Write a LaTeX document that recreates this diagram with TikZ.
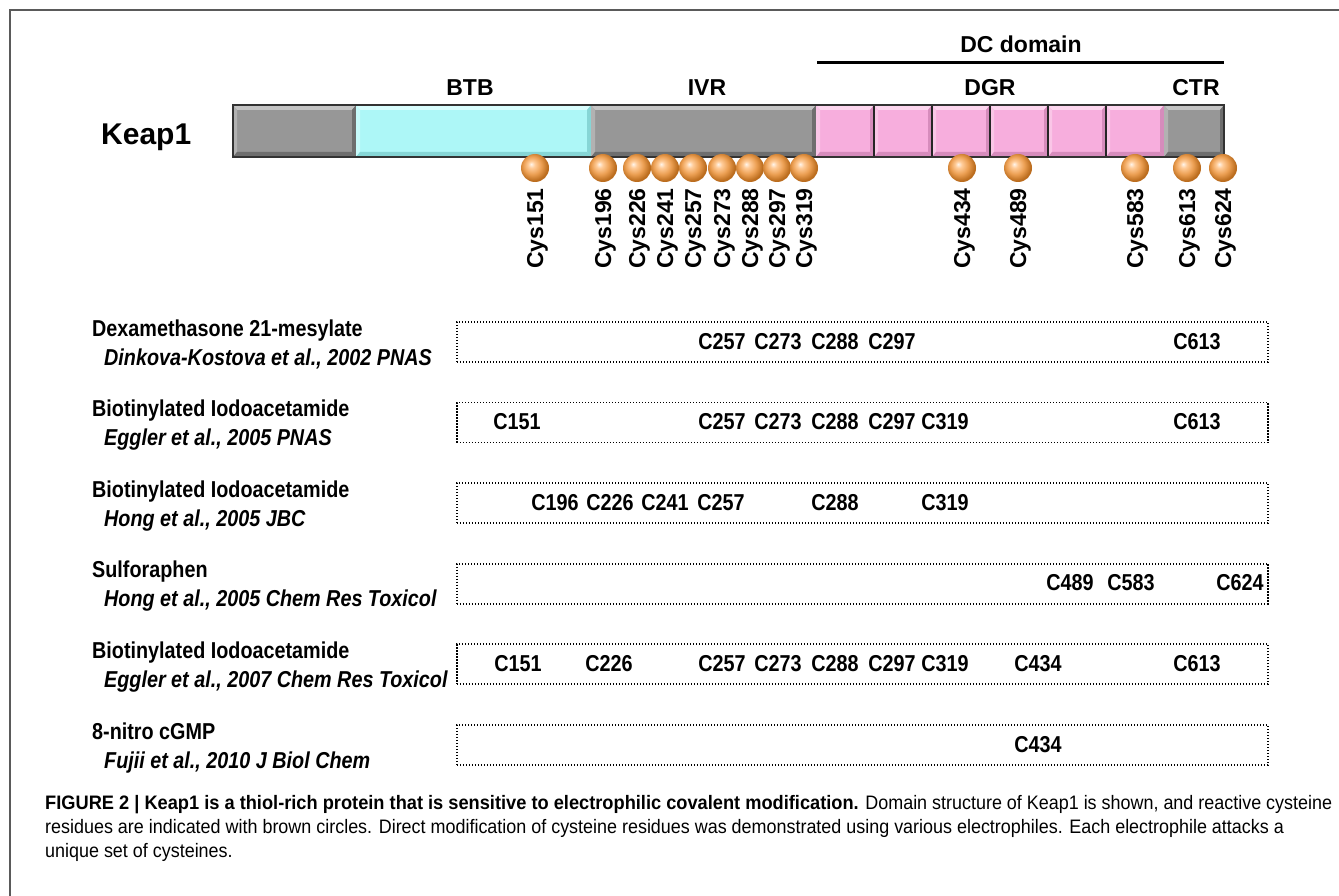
\documentclass[tikz,border=0pt]{standalone}
\usepackage{fontspec}
\setmainfont{Liberation Sans}
\newfontfamily\condfont[FakeStretch=0.86]{Liberation Sans}
\newfontfamily\capfont[FakeStretch=0.92]{Liberation Sans}
\newfontfamily\capboldfont[FakeStretch=0.935]{Liberation Sans}
\usetikzlibrary{calc}
\definecolor{graybase}{HTML}{979797}
\definecolor{graylight}{HTML}{C4C4C4}
\definecolor{graydark}{HTML}{6E6E6E}
\definecolor{cyanbase}{HTML}{ADF7F7}
\definecolor{cyanlight}{HTML}{D8FDFD}
\definecolor{cyandark}{HTML}{86D6D6}
\definecolor{pinkbase}{HTML}{F7AEDD}
\definecolor{pinklight}{HTML}{FCD6EE}
\definecolor{pinkdark}{HTML}{D68CBC}
\definecolor{framegray}{HTML}{5A5A5A}
\pgfdeclareradialshading{cysball}{\pgfpoint{-7bp}{7bp}}{%
  color(0bp)=(white!92!orange);
  color(6bp)=(white!60!orange);
  color(16bp)=(orange!60!brown!75!white);
  color(26bp)=(orange!45!brown!85!black);
  color(50bp)=(orange!45!brown!85!black)}
\newcommand\kseg[5]{%
  \fill[#3] (#1,105) rectangle (#2,157);
  \fill[#4] (#1,105) -- (#2,105) -- ({#2-4},110) -- ({#1+4},110) -- cycle;
  \fill[#4!60!#3] (#1,105) -- ({#1+4},110) -- ({#1+4},152) -- (#1,157) -- cycle;
  \fill[#5] (#1,157) -- (#2,157) -- ({#2-4},152) -- ({#1+4},152) -- cycle;
  \fill[#5] (#2,105) -- (#2,157) -- ({#2-4},152) -- ({#2-4},110) -- cycle;
}
\tikzset{
  cys/.style={circle, minimum size=28pt, inner sep=0pt, shading=cysball},
  cyslab/.style={rotate=90, anchor=east, inner sep=0pt, font=\fontsize{23}{26}\selectfont\bfseries},
  domlab/.style={anchor=base, inner sep=0pt, font=\fontsize{23}{26}\selectfont\bfseries},
  rowbox/.style={draw, line width=1.8pt, dash pattern=on 1.4pt off 1.6pt, anchor=north west,
    minimum width=811pt, minimum height=40pt, inner sep=0pt},
  rowtitle/.style={anchor=base west, inner sep=0pt, font=\condfont\fontsize{23}{26}\selectfont\bfseries},
  rowref/.style={anchor=base west, inner sep=0pt, font=\condfont\fontsize{23}{26}\selectfont\bfseries\itshape},
  clab/.style={anchor=base, inner sep=0pt, font=\condfont\fontsize{23}{26}\selectfont\bfseries},
  capline/.style={anchor=base west, inner sep=0pt, font=\capfont\fontsize{19.5}{22}\selectfont},
}
\begin{document}
\begin{tikzpicture}[x=1pt,y=-1pt]
\useasboundingbox (0,0) rectangle (1339,896);
\fill[white] (0,0) rectangle (1339,896);
\draw[framegray, line width=2pt] (10,896) -- (10,10) -- (1339,10);

% Keap1 bar
\node[anchor=base west, inner sep=0pt, font=\fontsize{30}{34}\selectfont\bfseries] (keap) at (101,145) {Keap1};
\kseg{233}{356}{graybase}{graylight}{graydark}
\kseg{356}{591}{cyanbase}{cyanlight}{cyandark}
\kseg{591}{816}{graybase}{graylight}{graydark}
\kseg{816}{874}{pinkbase}{pinklight}{pinkdark}
\kseg{874}{932}{pinkbase}{pinklight}{pinkdark}
\kseg{932}{990}{pinkbase}{pinklight}{pinkdark}
\kseg{990}{1048}{pinkbase}{pinklight}{pinkdark}
\kseg{1048}{1106}{pinkbase}{pinklight}{pinkdark}
\kseg{1106}{1164}{pinkbase}{pinklight}{pinkdark}
\kseg{1164}{1224}{graybase}{graylight}{graydark}
\foreach \sx in {874,932,990,1048,1106}
  \draw[black!85, line width=1.5pt] (\sx,105) -- (\sx,157);
\draw[black!80, line width=1.5pt] (233,105) rectangle (1224,157);

% domain labels
\node[domlab] (btb) at (470,96) {BTB};
\node[domlab] (ivr) at (707,96) {IVR};
\node[domlab] (dgr) at (990,96) {DGR};
\node[domlab] (ctr) at (1196,96) {CTR};
\node[domlab] (dcd) at (1021,53) {DC domain};
\coordinate (dcl) at (817,63);
\coordinate (dcr) at (1224,63);
\draw[line width=3pt] (dcl) -- (dcr);

% cysteines
\foreach \n/\cx in {151/535,196/603,226/637,241/665,257/693,273/722,288/750,297/777,319/804,434/962,489/1018,583/1135,613/1187,624/1223}{
  \node[cys] (s\n) at (\cx,168) {};
  \node[cyslab] (l\n) at ({\cx+2.4},188) {Cys\n};
}

% rows
% row 1
\node[rowbox] (b1) at (456,321) {};
\node[rowtitle] (t1) at (92,336) {Dexamethasone 21-mesylate};
\node[rowref] (r1) at (104,365) {Dinkova-Kostova et al., 2002 PNAS};
\foreach \c/\cx in {257/722,273/778,288/835,297/892,613/1197}
  \node[clab] (a\c) at (\cx,349) {C\c};
% row 2
\node[rowbox] (b2) at (456,401.6) {};
\node[rowtitle] (t2) at (92,416.6) {Biotinylated Iodoacetamide};
\node[rowref] (r2) at (104,445.6) {Eggler et al., 2005 PNAS};
\foreach \c/\cx in {151/517,257/722,273/778,288/835,297/892,319/945,613/1197}
  \node[clab] (b\c) at (\cx,429.6) {C\c};
% row 3
\node[rowbox] (b3) at (456,482.2) {};
\node[rowtitle] (t3) at (92,497.2) {Biotinylated Iodoacetamide};
\node[rowref] (r3) at (104,526.2) {Hong et al., 2005 JBC};
\foreach \c/\cx in {196/555,226/610,241/665,257/721,288/835,319/945}
  \node[clab] (c\c) at (\cx,510.2) {C\c};
% row 4
\node[rowbox] (b4) at (456,562.8) {};
\node[rowtitle] (t4) at (92,577.8) {Sulforaphen};
\node[rowref] (r4) at (104,606.8) {Hong et al., 2005 Chem Res Toxicol};
\foreach \c/\cx in {489/1070,583/1131,624/1240}
  \node[clab] (d\c) at (\cx,590.8) {C\c};
% row 5
\node[rowbox] (b5) at (456,643.4) {};
\node[rowtitle] (t5) at (92,658.4) {Biotinylated Iodoacetamide};
\node[rowref] (r5) at (104,687.4) {Eggler et al., 2007 Chem Res Toxicol};
\foreach \c/\cx in {151/518,226/609,257/722,273/778,288/835,297/892,319/945,434/1038,613/1197}
  \node[clab] (e\c) at (\cx,671.4) {C\c};
% row 6
\node[rowbox] (b6) at (456,724) {};
\node[rowtitle] (t6) at (92,739) {8-nitro cGMP};
\node[rowref] (r6) at (104,768) {Fujii et al., 2010 J Biol Chem};
\node[clab] (f434) at (1038,752) {C434};

% caption
\node[capline] (cap1) at (45,809) {{\capboldfont\bfseries FIGURE 2 | Keap1 is a thiol-rich protein that is sensitive to electrophilic covalent modification.} Domain structure of Keap1 is shown, and reactive cysteine};
\node[capline] (cap2) at (45,833) {residues are indicated with brown circles. Direct modification of cysteine residues was demonstrated using various electrophiles. Each electrophile attacks a};
\node[capline] (cap3) at (45,857) {unique set of cysteines.};
\end{tikzpicture}
\end{document}
